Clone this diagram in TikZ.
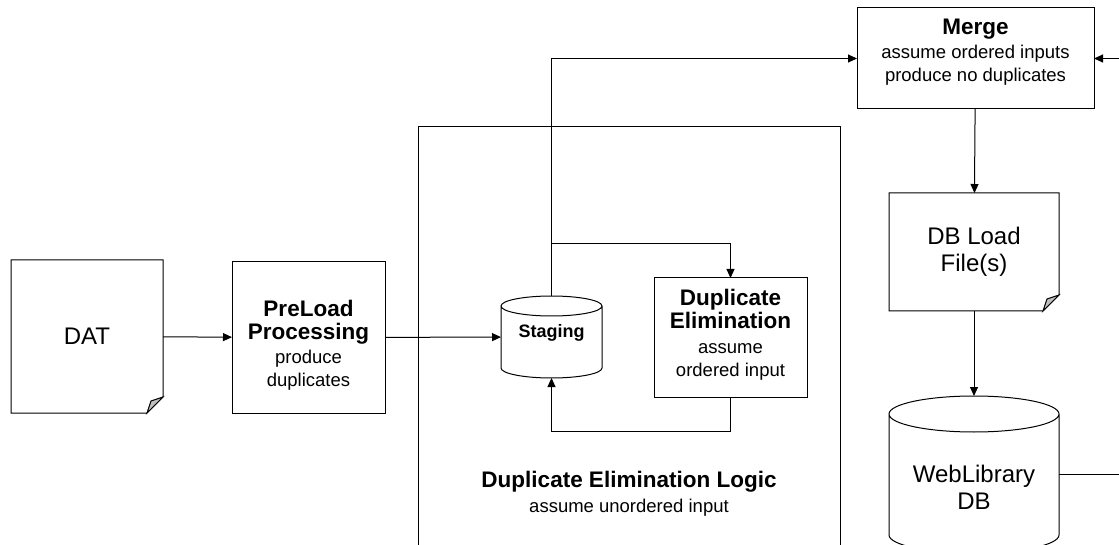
\documentclass[tikz,border=0pt]{standalone}
\usepackage{fontspec}
\setmainfont{Liberation Sans}
\usetikzlibrary{arrows.meta}
\definecolor{foldgray}{RGB}{192,192,192}
\newcommand{\hd}{\fontsize{22.5}{26}\selectfont\bfseries}
\tikzset{box/.style={draw, outer sep=0pt, inner sep=0pt},
         shell/.style={outer sep=0pt, inner sep=0pt, align=center},
         flow/.style={-{Triangle[length=9pt,width=8pt]}},
         bigfont/.style={font=\fontsize{24}{27}\selectfont},
         txt/.style={align=center, inner sep=0pt, font=\fontsize{18.5}{23}\selectfont}}
% document outline with a turned-down corner
\newcommand{\docpage}[1]{%
  \draw (#1.north west) -- (#1.north east) -- ([yshift=16pt]#1.south east)
        -- ([xshift=-16pt]#1.south east) -- (#1.south west) -- cycle;
  \filldraw[fill=foldgray] ([xshift=-16pt]#1.south east) -- ([yshift=16pt]#1.south east)
        -- ([xshift=-12pt,yshift=12pt]#1.south east) -- cycle;}
% drum (database) outline
\newcommand{\drum}[3]{%
  \draw ([yshift=-#3]#1.north west) -- ([yshift=#3]#1.south west)
        arc[start angle=180, end angle=360, x radius=#2, y radius=#3]
        -- ([yshift=-#3]#1.north east)
        arc[start angle=0, end angle=360, x radius=#2, y radius=#3];}

\begin{document}
\begin{tikzpicture}[x=1pt, y=-1pt, line width=1pt]
        \useasboundingbox (0,0) rectangle (1119,545);

        % Duplicate elimination frame
        \draw (418,127) rectangle (840,570);
        \node[txt] (logictitle) at (629,482) {\hd Duplicate Elimination Logic};
        \node[txt] (logicnote) at (629,508) {assume unordered input};

        % files and boxes
        \node[shell, bigfont, minimum width=152pt, minimum height=153pt] (dat) at (87,336.5) {DAT};
        \docpage{dat}
        \node[box, minimum width=153pt, minimum height=151pt] (preload) at (308.5,337.5) {};
        \node[txt] (preloadtext) at (308.5,345) {\hd PreLoad\\\hd Processing\\[1pt]produce\\duplicates};

        \node[shell, minimum width=101pt, minimum height=82pt] (staging) at (551.5,337) {};
        \drum{staging}{50.5pt}{10pt}
        \node[txt] (stagingtext) at (551.5,333) {\fontsize{18}{21}\selectfont\bfseries Staging};

        \node[box, minimum width=153pt, minimum height=119pt] (dupelim) at (730.5,337.5) {};
        \node[txt] (dupelimtext) at (730.5,335) {\hd Duplicate\\\hd Elimination\\[2pt]assume\\ordered input};

        \node[box, minimum width=237pt, minimum height=101pt] (merge) at (975.5,58.5) {};
        \node[txt] (mergetext) at (975.5,52) {\hd Merge\\[1pt]assume ordered inputs\\produce no duplicates};

        \node[shell, bigfont, minimum width=170pt, minimum height=118pt] (dbload) at (974,252) {DB Load\\File(s)};
        \docpage{dbload}

        \node[shell, minimum width=170pt, minimum height=157pt] (weblib) at (974,474.5) {};
        \drum{weblib}{85pt}{18pt}
        \node[txt, bigfont] (weblibtext) at (974,487) {WebLibrary\\DB};

        % connectors
        \coordinate (split) at (551.5,244);
        \draw[flow] (dat) -- (preload);
        \draw[flow] (preload) -- (staging);
        \draw[flow] (staging.north) |- (merge.west);
        \draw[flow] (split) -| (dupelim.north);
        \draw[flow] (dupelim.south) -- ++(0,-34pt) -| (staging.south);
        \draw[flow] (merge) -- (dbload);
        \draw[flow] (dbload) -- (weblib.north);
        \draw[flow] (weblib.east) -- ++(80pt,0) |- (merge.east);
\end{tikzpicture}
\end{document}
